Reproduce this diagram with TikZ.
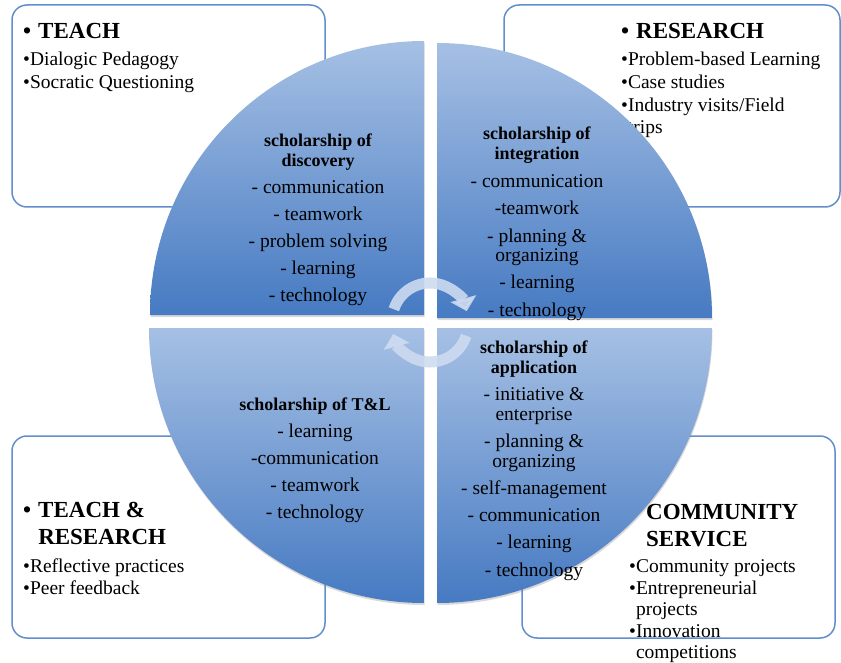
\documentclass[tikz,border=0pt]{standalone}
\usepackage{fontspec}
\setmainfont{Liberation Serif}
\usetikzlibrary{arrows.meta,shadows}

\definecolor{boxline}{RGB}{98,142,206}
\definecolor{qlight}{RGB}{166,192,228}
\definecolor{qdark}{RGB}{70,122,194}
\definecolor{arrowfill}{RGB}{205,219,240}

\newcommand{\itemfont}{\fontsize{19.5}{23}\selectfont}
\newcommand{\headfont}{\fontsize{23}{27}\selectfont\bfseries}
\newcommand{\qfont}{\fontsize{19.5}{19.5}\selectfont}
\newcommand{\qhead}[1]{{\fontsize{18}{19.5}\selectfont\bfseries #1}}

\tikzset{
  box/.style={draw=boxline, line width=1.5pt, rounded corners=15pt, fill=white},
  quarter/.style={top color=qlight, bottom color=qdark,
    drop shadow={opacity=0.3, shadow xshift=0.5pt, shadow yshift=-2pt}},
  cyc arrow/.style={draw=arrowfill, line width=11pt, opacity=0.9,
    -{Triangle[length=13pt,width=26pt]}},
  quad text/.style={align=center, font=\qfont, inner sep=0pt, anchor=north},
  box text/.style={align=left, font=\itemfont, inner sep=0pt, anchor=north west},
}

\begin{document}
\begin{tikzpicture}[x=1pt, y=-1pt]
\useasboundingbox (0,0) rectangle (841,663);

% outer boxes
\draw[box] (12,5) rectangle (325,207);
\draw[box] (504,5) rectangle (840,207);
\draw[box] (12,436) rectangle (325,638);
\draw[box] (522,436) rectangle (835,638);

% box texts
\node[box text] (teach) at (23,23)
  {{\headfont •\hspace{7pt}TEACH}\\[4pt] •Dialogic Pedagogy\\ •Socratic Questioning};
\node[box text] (research) at (621,23)
  {{\headfont •\hspace{7pt}RESEARCH}\\[4pt] •Problem-based Learning\\ •Case studies\\
   •Industry visits/Field\\[-1pt] \phantom{•}trips};
\node[box text] (teachres) at (23,502)
  {{\headfont •\hspace{7pt}TEACH \&}\\[4pt] {\headfont\phantom{•}\hspace{7pt}RESEARCH}\\[5pt]
   •Reflective practices\\[-1pt] •Peer feedback};
\node[box text] (community) at (629,504)
  {{\headfont\hspace*{17pt}COMMUNITY}\\[4pt] {\headfont\hspace*{17pt}SERVICE}\\[3pt]
   •Community projects\\[-1pt] •Entrepreneurial\\[-1.5pt] \phantom{•}projects\\[-1.5pt]
   •Innovation\\[-1.5pt] \phantom{•}competitions};

% four quarters of the circle
\path[quarter] (424,315) -- (150,315) arc[start angle=180, end angle=270, radius=274] -- cycle;
\path[quarter] (437,318) -- (437,43) arc[start angle=270, end angle=360, radius=275] -- cycle;
\path[quarter] (424,328) -- (424,603) arc[start angle=90, end angle=180, radius=275] -- cycle;
\path[quarter] (437,328) -- (712,328) arc[start angle=0, end angle=90, radius=275] -- cycle;

% cycle arrows
\coordinate (ctop) at (430,321);
\coordinate (cbot) at (430,324);
\draw[cyc arrow] (ctop) ++(198:38) arc[start angle=198, end angle=345, radius=38];
\draw[cyc arrow] (cbot) ++(18:38) arc[start angle=18, end angle=165, radius=38];

% quarter texts
\node[quad text] (discovery) at (318,134)
  {\qhead{scholarship of}\\ \qhead{discovery}\\[8pt] - communication\\[7.5pt]
   - teamwork\\[7.5pt] - problem solving\\[7.5pt] - learning\\[7.5pt] - technology};
\node[quad text] (integration) at (537,127)
  {\qhead{scholarship of}\\ \qhead{integration}\\[9pt] - communication\\[7.5pt]
   -teamwork\\[8pt] - planning \&\\ organizing\\[7.5pt] - learning\\[8pt] - technology};
\node[quad text] (tandl) at (315,398)
  {\qhead{scholarship of T\&L}\\[7.5pt] - learning\\[7.5pt] -communication\\[7.5pt]
   - teamwork\\[7.5pt] - technology};
\node[quad text] (application) at (534,341)
  {\qhead{scholarship of}\\ \qhead{application}\\[8pt] - initiative \&\\ enterprise\\[8pt]
   - planning \&\\ organizing\\[8pt] - self-management\\[7.5pt] - communication\\[7.5pt]
   - learning\\[8pt] - technology};
\end{tikzpicture}
\end{document}
